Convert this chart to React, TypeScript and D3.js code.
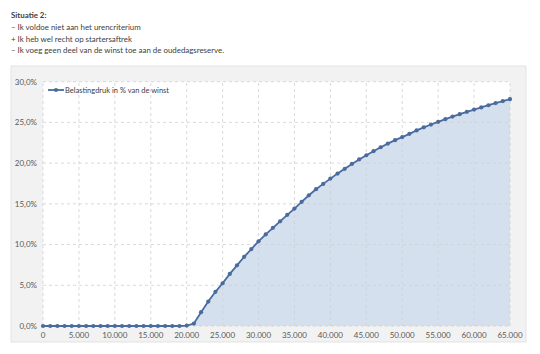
import React from "react";
import * as d3 from "d3";

const titleLines = [
  "Situatie 2:",
  "– Ik voldoe niet aan het urencriterium",
  "+ Ik heb wel recht op startersaftrek",
  "– Ik voeg geen deel van de winst toe aan de oudedagsreserve.",
];

const winst = d3.range(0, 66000, 1000);

const belastingdruk = [
  0, 0, 0, 0, 0, 0, 0, 0, 0, 0,
  0, 0, 0, 0, 0, 0, 0, 0, 0, 0,
  0.05, 0.3, 1.7, 3.0, 4.2, 5.25, 6.4, 7.45, 8.5, 9.45,
  10.4, 11.25, 12.05, 12.85, 13.65, 14.42, 15.25, 16.05, 16.8, 17.45,
  18.1, 18.72, 19.3, 19.9, 20.45, 20.97, 21.47, 21.95, 22.4, 22.82,
  23.2, 23.6, 24.02, 24.4, 24.74, 25.07, 25.4, 25.72, 26.01, 26.3,
  26.58, 26.84, 27.11, 27.37, 27.62, 27.86,
];

const xTicks = d3.range(0, 70000, 5000);
const yTicks = [0, 5, 10, 15, 20, 25, 30];
const legendLabel = "Belastingdruk in % van de winst";

const fmtX = (v: number) => (v === 0 ? "0" : d3.format(",")(v).replace(/,/g, "."));
const fmtY = (v: number) => v.toFixed(1).replace(".", ",") + "%";

export default function App() {
  const W = 540, H = 354;
  const x = d3.scaleLinear().domain([0, 65000]).range([43, 510]);
  const y = d3.scaleLinear().domain([0, 30]).range([326, 81.7]);
  const pts = winst.map((w, i) => [w, belastingdruk[i]] as [number, number]);
  const line = d3.line<[number, number]>().x(d => x(d[0])).y(d => y(d[1]));
  const area = d3.area<[number, number]>().x(d => x(d[0])).y0(y(0)).y1(d => y(d[1]));
  const lineColor = "#4a6b9d";
  const font = "Lato, 'Open Sans', sans-serif";
  return (
    <svg width={W} height={H} style={{ position: "absolute", left: 0, top: 0, background: "#fff" }}>
      <g fontFamily={font} fill="#404040">
        {titleLines.map((t, i) => (
          <text key={i} x={11} y={18 + i * 11.8} fontSize={7.9} fontWeight={i === 0 ? 700 : 400}>
            {t}
          </text>
        ))}
      </g>
      <rect x={11} y={66} width={515} height={276} fill="#f2f2f2" stroke="#e3e3e3" />
      <rect x={x(0)} y={y(30)} width={x(65000) - x(0)} height={y(0) - y(30)} fill="#fff" />
      <path d={area(pts) || ""} fill="#d5e0ee" />
      {xTicks.map(t => (
        <line key={"gx" + t} x1={x(t)} x2={x(t)} y1={y(0)} y2={y(30)} stroke="#d0d0d0" strokeWidth={0.8} strokeDasharray="3,3" />
      ))}
      {yTicks.map(t => (
        <line key={"gy" + t} x1={x(0)} x2={x(65000)} y1={y(t)} y2={y(t)} stroke="#d0d0d0" strokeWidth={0.8} strokeDasharray="3,3" />
      ))}
      <path d={line(pts) || ""} fill="none" stroke={lineColor} strokeWidth={1.8} />
      {pts.map((p, i) => (
        <circle key={i} cx={x(p[0])} cy={y(p[1])} r={2.1} fill={lineColor} />
      ))}
      <g fontFamily={font} fontSize={8} fill="#595959">
        {yTicks.map(t => (
          <text key={"ty" + t} x={37} y={y(t)} dy="0.35em" textAnchor="end">{fmtY(t)}</text>
        ))}
        {xTicks.map(t => (
          <text key={"tx" + t} x={x(t)} y={338} textAnchor="middle">{fmtX(t)}</text>
        ))}
      </g>
      <g>
        <line x1={48} x2={64} y1={90} y2={90} stroke={lineColor} strokeWidth={1.8} />
        <circle cx={56} cy={90} r={2.1} fill={lineColor} />
        <text x={65} y={90} dy="0.35em" fontFamily={font} fontSize={7.5} fill="#404040">{legendLabel}</text>
      </g>
    </svg>
  );
}
